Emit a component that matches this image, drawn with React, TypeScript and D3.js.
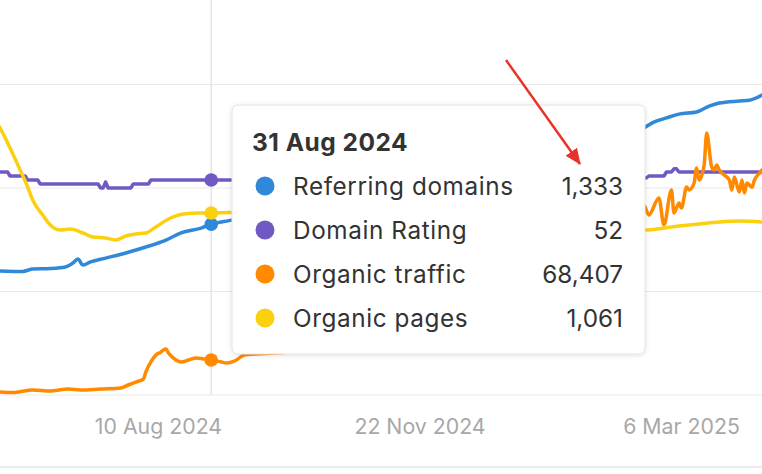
import React from "react";
import * as d3 from "d3";

const refDomains: [string, number][] = [
  ["2024-06-08", 1151], ["2024-06-17", 1149], ["2024-06-21", 1158], ["2024-06-28", 1160],
  ["2024-07-04", 1166], ["2024-07-07", 1182], ["2024-07-09", 1197], ["2024-07-11", 1174],
  ["2024-07-14", 1186], ["2024-07-20", 1201], ["2024-07-28", 1221], ["2024-08-05", 1244],
  ["2024-08-13", 1271], ["2024-08-19", 1299], ["2024-08-27", 1318], ["2024-08-31", 1333],
  ["2024-09-07", 1347], ["2024-10-01", 1381], ["2024-11-01", 1447], ["2024-12-01", 1513],
  ["2025-01-01", 1583], ["2025-02-01", 1661], ["2025-02-19", 1708], ["2025-02-23", 1731],
  ["2025-02-28", 1747], ["2025-03-05", 1762], ["2025-03-12", 1770], ["2025-03-17", 1793],
  ["2025-03-21", 1805], ["2025-03-29", 1813], ["2025-04-02", 1816], ["2025-04-07", 1836],
];

const domainRating: [string, number][] = [
  ["2024-06-08", 54], ["2024-06-11", 54], ["2024-06-12", 53], ["2024-06-18", 53],
  ["2024-06-19", 52], ["2024-06-23", 52], ["2024-06-24", 51], ["2024-07-17", 51],
  ["2024-07-18", 50], ["2024-07-19", 50], ["2024-07-20", 51.5], ["2024-07-21", 50],
  ["2024-07-30", 50], ["2024-07-31", 51], ["2024-08-06", 51], ["2024-08-07", 52],
  ["2024-08-31", 52], ["2025-02-16", 52], ["2025-02-17", 52.5], ["2025-02-20", 52.5],
  ["2025-02-21", 53], ["2025-02-27", 53], ["2025-02-28", 54], ["2025-03-02", 54],
  ["2025-03-03", 54.8], ["2025-03-04", 54.8], ["2025-03-05", 54], ["2025-04-07", 54],
];

const organicTraffic: [string, number][] = [
  ["2024-06-08", 24600], ["2024-06-13", 23900], ["2024-06-21", 27400], ["2024-06-28", 26000],
  ["2024-07-05", 28700], ["2024-07-10", 27400], ["2024-07-18", 28700], ["2024-07-26", 30100],
  ["2024-07-29", 34200], ["2024-08-01", 38300], ["2024-08-04", 42400], ["2024-08-05", 52000],
  ["2024-08-07", 65700], ["2024-08-09", 75200], ["2024-08-11", 79300], ["2024-08-12", 82100],
  ["2024-08-13", 83400], ["2024-08-14", 78000], ["2024-08-16", 71100], ["2024-08-19", 65700],
  ["2024-08-22", 68400], ["2024-08-25", 71100], ["2024-08-28", 69800], ["2024-08-31", 68407],
  ["2024-09-04", 65700], ["2024-09-06", 64300], ["2024-09-10", 68400], ["2024-09-13", 75200],
  ["2024-09-17", 76600], ["2024-10-01", 79300], ["2024-11-01", 109400], ["2024-12-01", 150500],
  ["2025-01-01", 191500], ["2025-02-01", 239400], ["2025-02-14", 266800], ["2025-02-19", 280400],
  ["2025-02-21", 266800], ["2025-02-25", 290000], ["2025-02-27", 253100], ["2025-03-02", 301000],
  ["2025-03-03", 269500], ["2025-03-05", 283200], ["2025-03-06", 276300], ["2025-03-08", 305100],
  ["2025-03-09", 301000], ["2025-03-11", 310500], ["2025-03-12", 331100], ["2025-03-13", 314600],
  ["2025-03-15", 335200], ["2025-03-16", 378900], ["2025-03-18", 332400], ["2025-03-19", 328300],
  ["2025-03-20", 335200], ["2025-03-21", 328300], ["2025-03-23", 321500], ["2025-03-25", 314600],
  ["2025-03-26", 301000], ["2025-03-27", 318700], ["2025-03-29", 298200], ["2025-03-30", 314600],
  ["2025-03-31", 296900], ["2025-04-01", 310500], ["2025-04-03", 304600], ["2025-04-04", 314600],
  ["2025-04-06", 324200], ["2025-04-07", 328300],
];

const organicPages: [string, number][] = [
  ["2024-06-06", 1526], ["2024-06-08", 1486], ["2024-06-12", 1386], ["2024-06-16", 1276],
  ["2024-06-19", 1191], ["2024-06-21", 1126], ["2024-06-25", 1051], ["2024-06-28", 1001],
  ["2024-07-02", 976], ["2024-07-06", 981], ["2024-07-11", 961], ["2024-07-15", 941],
  ["2024-07-20", 936], ["2024-07-24", 926], ["2024-07-28", 946], ["2024-08-01", 956],
  ["2024-08-05", 961], ["2024-08-09", 991], ["2024-08-14", 1031], ["2024-08-20", 1056],
  ["2024-08-26", 1061], ["2024-08-31", 1061], ["2024-09-07", 1063], ["2024-10-01", 1051],
  ["2024-11-01", 1026], ["2024-12-01", 1006], ["2025-01-01", 986], ["2025-02-01", 976],
  ["2025-02-19", 976], ["2025-03-05", 996], ["2025-03-13", 1006], ["2025-03-21", 1016],
  ["2025-03-29", 1021], ["2025-04-07", 1016],
];

const tickDates = ["2024-08-10", "2024-11-22", "2025-03-06"];
const hoverDate = "2024-08-31";

const W = 762;
const H = 474;
const FONT = "Inter, 'Noto Sans', sans-serif";

const parse = d3.timeParse("%Y-%m-%d");
const fmtDate = d3.timeFormat("%-d %b %Y");
const fmtNum = d3.format(",");

export default function App() {
  const x = d3
    .scaleTime()
    .domain([parse("2024-06-08")!, parse("2025-04-07")!])
    .range([0, W]);

  // every metric gets its own y scale, like the Ahrefs overview chart
  const series = [
    {
      name: "Referring domains",
      color: "#3088D9",
      data: refDomains,
      y: d3.scaleLinear().domain([800, 2000]).range([361, 53]),
      curve: d3.curveMonotoneX,
    },
    {
      name: "Domain Rating",
      color: "#7059C2",
      data: domainRating,
      y: d3.scaleLinear().domain([40, 60]).range([228, 148]),
      curve: d3.curveLinear,
    },
    {
      name: "Organic traffic",
      color: "#FF8A00",
      data: organicTraffic,
      y: d3.scaleLinear().domain([0, 400000]).range([410, 117.6]),
      curve: d3.curveMonotoneX,
    },
    {
      name: "Organic pages",
      color: "#FAD00F",
      data: organicPages,
      y: d3.scaleLinear().domain([0, 2000]).range([425.2, 25.2]),
      curve: d3.curveMonotoneX,
    },
  ];

  const grid = d3.scaleLinear().domain([0, 4]).range([395, -19]);
  const hx = x(parse(hoverDate)!);

  // tooltip box
  const tip = { x: 232, y: 105, w: 413, h: 249 };
  const rowY = (i: number) => tip.y + 81 + i * 44;

  return (
    <svg
      width={W}
      height={H}
      style={{ position: "absolute", left: 0, top: 0, background: "#fff" }}
      fontFamily={FONT}
    >
      <defs>
        <filter id="tipShadow" x="-10%" y="-10%" width="120%" height="130%">
          <feDropShadow dx="0" dy="1" stdDeviation="2.5" floodColor="#000" floodOpacity="0.12" />
        </filter>
        <marker
          id="arrowHead"
          markerUnits="userSpaceOnUse"
          markerWidth="16"
          markerHeight="14"
          refX="15"
          refY="7"
          orient="auto"
        >
          <path d="M0,0 L16,7 L0,14 z" fill="#E8332A" />
        </marker>
      </defs>

      {/* gridlines */}
      {d3.range(0, 5).map((i) => (
        <line key={i} x1={0} x2={W} y1={grid(i)} y2={grid(i)} stroke="#E9E9E9" strokeWidth={1.2} />
      ))}
      <line x1={0} x2={W} y1={467} y2={467} stroke="#E4E4E4" strokeWidth={1.5} />

      {/* crosshair */}
      <line x1={hx} x2={hx} y1={0} y2={grid(0)} stroke="#E4E4E4" strokeWidth={1.5} />

      {/* x tick labels */}
      {tickDates.map((t) => (
        <text
          key={t}
          x={x(parse(t)!)}
          y={434}
          textAnchor="middle"
          fontSize={21.3}
          fill="#A8A8A8"
        >
          {fmtDate(parse(t)!)}
        </text>
      ))}

      {/* lines */}
      {series.map((s) => {
        const line = d3
          .line<[string, number]>()
          .x((d) => x(parse(d[0])!))
          .y((d) => s.y(d[1]))
          .curve(s.curve);
        return (
          <path
            key={s.name}
            d={line(s.data) || ""}
            fill="none"
            stroke={s.color}
            strokeWidth={3.5}
            strokeLinejoin="round"
            strokeLinecap="round"
          />
        );
      })}

      {/* hover markers */}
      {series.map((s) => {
        const v = s.data.find((d) => d[0] === hoverDate)![1];
        return <circle key={s.name} cx={hx} cy={s.y(v)} r={6.8} fill={s.color} />;
      })}

      {/* tooltip */}
      <rect
        x={tip.x}
        y={tip.y}
        width={tip.w}
        height={tip.h}
        rx={6}
        fill="#fff"
        stroke="#E2E2E2"
        filter="url(#tipShadow)"
      />
      <text
        x={tip.x + 20}
        y={tip.y + 45.5}
        fontSize={24.5}
        fontWeight={700}
        letterSpacing={0.5}
        fill="#333"
      >
        {fmtDate(parse(hoverDate)!)}
      </text>
      {series.map((s, i) => {
        const v = s.data.find((d) => d[0] === hoverDate)![1];
        return (
          <g key={s.name}>
            <circle cx={tip.x + 33} cy={rowY(i)} r={9.5} fill={s.color} />
            <text
              x={tip.x + 61}
              y={rowY(i) + 8.5}
              fontSize={24.3}
              letterSpacing={0.6}
              fill="#333"
            >
              {s.name}
            </text>
            <text x={tip.x + 391} y={rowY(i) + 8.5} fontSize={24.3} fill="#333" textAnchor="end">
              {fmtNum(v)}
            </text>
          </g>
        );
      })}

      {/* red annotation arrow */}
      <line
        x1={506}
        y1={60}
        x2={580}
        y2={164}
        stroke="#E8332A"
        strokeWidth={2.5}
        markerEnd="url(#arrowHead)"
      />
    </svg>
  );
}
